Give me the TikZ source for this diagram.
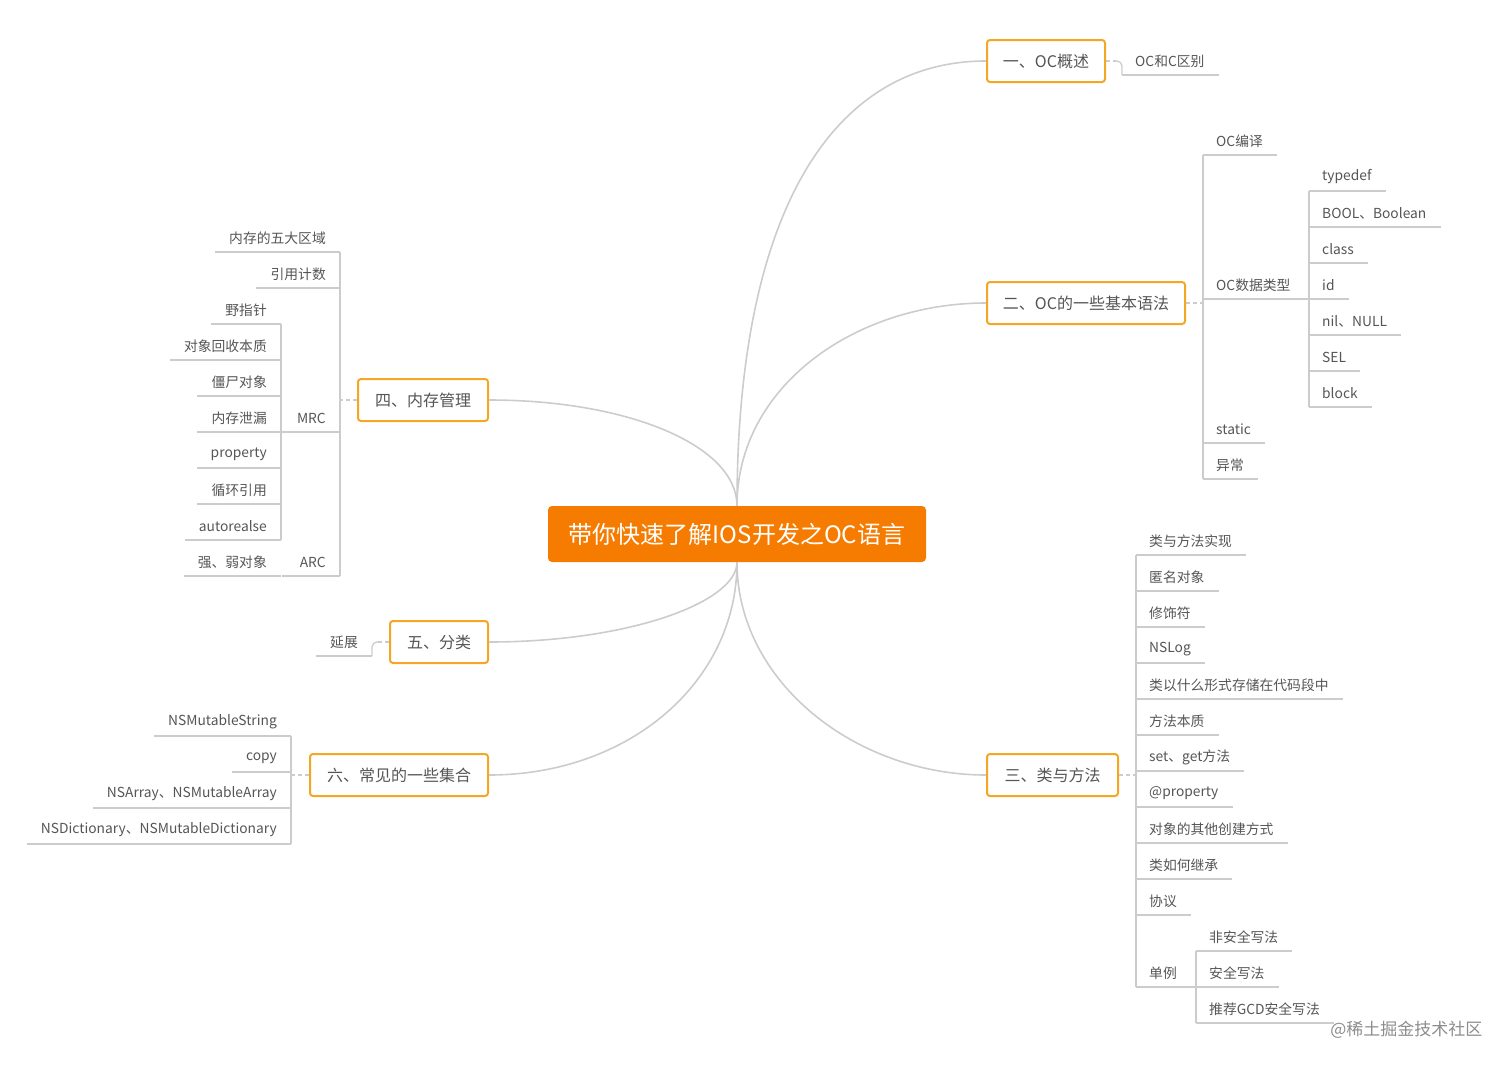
\documentclass[tikz,border=0pt]{standalone}
\usepackage{fontspec}
\setmainfont{Noto Sans CJK SC}
\usetikzlibrary{calc}
\definecolor{org}{HTML}{F57C00}
\definecolor{bord}{HTML}{F5A623}
\definecolor{txt}{HTML}{555555}
\definecolor{lg}{HTML}{CCCCCC}
\tikzset{
 ln/.style={draw=lg,line width=1.3pt,rounded corners=5pt},
 cv/.style={draw=lg,line width=1.6pt},
 dsh/.style={draw=lg,line width=1.2pt,dash pattern=on 4pt off 3pt},
 leaf/.style={inner sep=0pt,text=txt,font=\fontsize{13.8}{16}\selectfont},
 br/.style={draw=bord,line width=2pt,rounded corners=3pt,fill=white,text=txt,font=\fontsize{16}{18}\selectfont,inner sep=0pt},
}
\newcommand\leafR[4]{\node[leaf,anchor=west] (#1) at (#2+13,#3) {#4}; \draw[ln] (#2,#3+14) -- ($(#1.east)+(14,14)$);}
\newcommand\leafL[4]{\node[leaf,anchor=east] (#1) at (#2-14,#3) {#4}; \draw[ln] (#2,#3+14) -- ($(#1.west)+(-14,14)$);}
\begin{document}
\begin{tikzpicture}[x=1pt,y=-1pt]
\useasboundingbox (0,0) rectangle (1512,1068);
% root
\node[fill=org,rounded corners=4pt,minimum width=378pt,minimum height=56pt,text=white,font=\fontsize{24}{28}\selectfont] (root) at (737,534) {带你快速了解IOS开发之OC语言};
% branches
\node[br,minimum width=118pt,minimum height=42pt] (b1) at (1046,61) {一、OC概述};
\node[br,minimum width=198pt,minimum height=42pt] (b2) at (1086,303) {二、OC的一些基本语法};
\node[br,minimum width=131pt,minimum height=42pt] (b3) at (1052.5,775) {三、类与方法};
\node[br,minimum width=130pt,minimum height=42pt] (b4) at (423,400) {四、内存管理};
\node[br,minimum width=98pt,minimum height=42pt] (b5) at (439,642) {五、分类};
\node[br,minimum width=178pt,minimum height=42pt] (b6) at (399,775) {六、常见的一些集合};
% curves
\draw[cv] (root.north) .. controls +(0,-300) and +(-150,0) .. (b1.west);
\draw[cv] (root.north) .. controls +(0,-120) and +(-130,0) .. (b2.west);
\draw[cv] (root.south) .. controls +(0,120) and +(-130,0) .. (b3.west);
\draw[cv] (root.north) .. controls +(0,-60) and +(140,0) .. (b4.east);
\draw[cv] (root.south) .. controls +(0,40) and +(140,0) .. (b5.east);
\draw[cv] (root.south) .. controls +(0,120) and +(140,0) .. (b6.east);
% branch 1
\leafR{c11}{1122}{61}{OC和C区别}
\coordinate (j1) at (1116,61);
\draw[dsh] (b1.east) -- (j1);
\draw[ln] (j1) -- (1122,61) -- (1122,75);
% branch 2
\leafR{c21}{1203}{141}{OC编译}
\leafR{c22}{1203}{285}{OC数据类型}
\leafR{c23}{1203}{429}{static}
\leafR{c24}{1203}{465}{异常}
\draw[ln] (1203,155) -- (1203,479);
\draw[dsh] (b2.east) -- (1203,303);
\foreach \n/\y/\t in {d1/177/typedef,d2/213/{BOOL、Boolean},d3/249/class,d4/285/id,d5/321/{nil、NULL},d6/357/SEL,d7/393/block}{\leafR{\n}{1309}{\y}{\t}}
\draw[ln] (1309,191) -- (1309,407);
\draw[dsh] ($(c22.east)+(14,14)$) -- (1309,299);
% branch 3
\foreach \n/\y/\t in {e1/541/类与方法实现,e2/577/匿名对象,e3/613/修饰符,e4/649/NSLog,e5/685/类以什么形式存储在代码段中,e6/721/方法本质,e7/757/{set、get方法},e8/793/@property,e9/829/对象的其他创建方式,e10/865/类如何继承,e11/901/协议,e12/973/单例}{\leafR{\n}{1136}{\y}{\t}}
\draw[ln] (1136,555) -- (1136,987);
\draw[dsh] (b3.east) -- (1136,775);
\foreach \n/\y/\t in {f1/937/非安全写法,f2/973/安全写法,f3/1009/推荐GCD安全写法}{\leafR{\n}{1196}{\y}{\t}}
\draw[ln] (1196,951) -- (1196,1023);
\draw[dsh] ($(e12.east)+(14,14)$) -- (1196,987);
% branch 4
\leafL{g1}{340}{238}{内存的五大区域}
\leafL{g2}{340}{274}{引用计数}
\leafL{g3}{340}{418}{MRC}
\leafL{g4}{340}{562}{ARC}
\draw[ln] (340,252) -- (340,576);
\draw[dsh] (b4.west) -- (340,400);
\foreach \n/\y/\t in {h1/310/野指针,h2/346/对象回收本质,h3/382/僵尸对象,h4/418/内存泄漏,h5/454/property,h6/490/循环引用,h7/526/autorealse}{\leafL{\n}{281}{\y}{\t}}
\draw[ln] (281,324) -- (281,540);
\draw[dsh] ($(g3.west)+(-14,14)$) -- (281,432);
\leafL{h8}{281}{562}{强、弱对象}
\draw[dsh] ($(g4.west)+(-14,14)$) -- (281,576);
% branch 5
\leafL{k1}{372}{642}{延展}
\draw[dsh] (b5.west) -- (378,642);
\draw[ln] (378,642) -- (372,642) -- (372,656);
% branch 6
\foreach \n/\y/\t in {m1/722/NSMutableString,m2/758/copy,m3/794/{NSArray、NSMutableArray},m4/830/{NSDictionary、NSMutableDictionary}}{\leafL{\n}{291}{\y}{\t}}
\draw[ln] (291,736) -- (291,844);
\draw[dsh] (b6.west) -- (291,775);
% watermark
\node[text=black!45,font=\fontsize{17}{20}\selectfont,anchor=east] (wm) at (1486,1030) {@稀土掘金技术社区};
\end{tikzpicture}
\end{document}
